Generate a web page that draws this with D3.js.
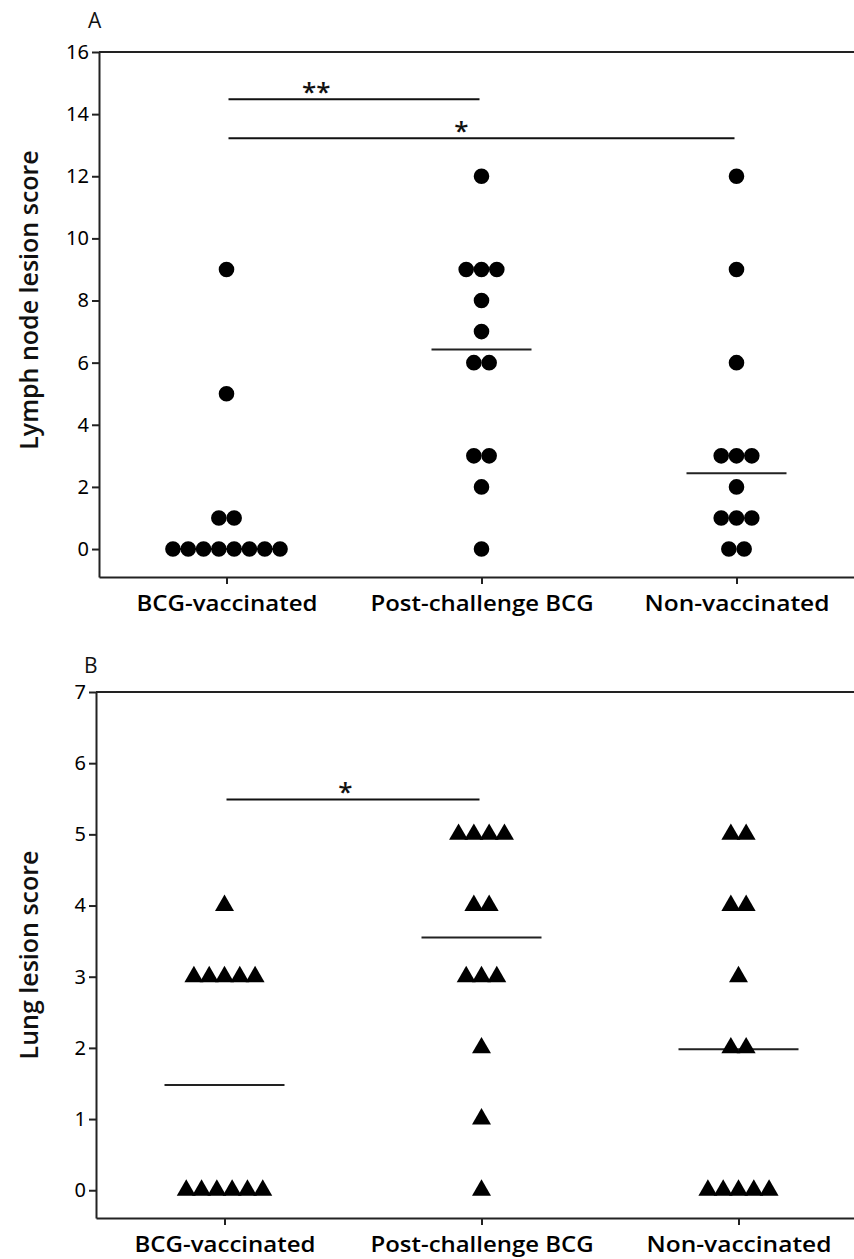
<!DOCTYPE html>
<html>
<head>
<meta charset="utf-8">
<script src="https://cdn.jsdelivr.net/npm/d3@7"></script>
<style>
  body { margin: 0; background: #fff; }
  svg { display: block; }
  text { font-family: "Open Sans", "Noto Sans", sans-serif; fill: #111; }
</style>
</head>
<body>
<svg id="chart" width="854" height="1259"></svg>
<script>
var groups = ['BCG-vaccinated', 'Post-challenge BCG', 'Non-vaccinated'];

// panel A: lymph node lesion score, one array per group
var lymphBCG = [0, 0, 0, 0, 0, 0, 0, 0, 1, 1, 5, 9];
var lymphPost = [0, 2, 3, 3, 6, 6, 7, 8, 9, 9, 9, 12];
var lymphNon = [0, 0, 1, 1, 1, 2, 3, 3, 3, 6, 9, 12];
var lymphMedians = [0, 6.42, 2.44];
var lymphTicks = [0, 2, 4, 6, 8, 10, 12, 14, 16];
// [from group, to group, height, label]
var lymphSig = [
    [0, 1, 14.48, '**'],
    [0, 2, 13.22, '*']
];

// panel B: lung lesion score
var lungBCG = [0, 0, 0, 0, 0, 0, 3, 3, 3, 3, 3, 4];
var lungPost = [0, 1, 2, 3, 3, 3, 4, 4, 5, 5, 5, 5];
var lungNon = [0, 0, 0, 0, 0, 2, 2, 3, 4, 4, 5, 5];
var lungMedians = [1.48, 3.55, 1.98];
var lungTicks = [0, 1, 2, 3, 4, 5, 6, 7];
var lungSig = [
    [0, 1, 5.49, '*']
];

var svg = d3.select('#chart');
var W = 854;

// spread equal values side by side, like a column scatter
function swarm(values, gi, spacing) {
    var counts = d3.rollup(values, function (v) { return v.length; }, function (d) { return d; });
    var seen = new Map();
    return values.map(function (v) {
        var n = counts.get(v);
        var j = seen.get(v) || 0;
        seen.set(v, j + 1);
        return { g: gi, v: v, off: (j - (n - 1) / 2) * spacing };
    });
}

function panel(opts) {
    var x = d3.scalePoint()
        .domain(groups)
        .range([opts.left, opts.left + 3 * opts.step])
        .padding(0.5);

    var y = d3.scaleLinear()
        .domain([opts.yMin, opts.yMax])
        .range([opts.bottom, opts.top]);

    var g = svg.append('g');

    // top frame line
    g.append('line')
        .attr('x1', opts.left).attr('x2', W + 20)
        .attr('y1', y(opts.yMax)).attr('y2', y(opts.yMax))
        .attr('stroke', '#222').attr('stroke-width', 2);

    var yAxis = g.append('g')
        .attr('transform', 'translate(' + opts.left + ',0)')
        .call(d3.axisLeft(y).tickValues(opts.ticks).tickSize(7).tickSizeOuter(0).tickPadding(3));
    yAxis.selectAll('text')
        .style('font-size', '20px')
        .style('fill', '#000')
        .style('font-family', '"Noto Sans", sans-serif');

    var xAxis = g.append('g')
        .attr('transform', 'translate(0,' + opts.bottom + ')')
        .call(d3.axisBottom(x).tickSize(7).tickSizeOuter(0).tickPadding(11));
    xAxis.selectAll('text')
        .style('font-size', '22px')
        .style('font-weight', 600)
        .style('fill', '#000')
        .attr('textLength', function (d, i) { return opts.labelLen[i]; })
        .attr('lengthAdjust', 'spacingAndGlyphs');

    [yAxis, xAxis].forEach(function (a) {
        a.selectAll('path, line').attr('stroke', '#222').attr('stroke-width', 2);
    });

    // axis title
    g.append('text')
        .attr('transform', 'translate(' + opts.titleX + ',' + opts.titleY + ') rotate(-90)')
        .attr('text-anchor', 'middle')
        .style('font-size', '25px')
        .style('font-weight', 600)
        .text(opts.title);

    // panel letter
    g.append('text')
        .attr('x', opts.letterX).attr('y', opts.letterY)
        .style('font-size', '21px')
        .text(opts.letter);

    // significance bars
    opts.sig.forEach(function (s, i) {
        var x1 = x(groups[s[0]]) + 2, x2 = x(groups[s[1]]) - 2;
        g.append('line')
            .attr('x1', x1).attr('x2', x2)
            .attr('y1', y(s[2])).attr('y2', y(s[2]))
            .attr('stroke', '#111').attr('stroke-width', 2);
        g.append('text')
            .attr('x', x1 + (x2 - x1) * opts.starPos[i])
            .attr('y', y(s[2]) + 2)
            .attr('text-anchor', 'middle')
            .style('font-size', '26px')
            .style('font-weight', 600)
            .text(s[3]);
    });

    // median lines
    g.selectAll('.median')
        .data(opts.medians)
        .enter()
        .append('line')
        .attr('x1', function (d, i) { return x(groups[i]) - opts.medHalf; })
        .attr('x2', function (d, i) { return x(groups[i]) + opts.medHalf; })
        .attr('y1', function (d) { return y(d); })
        .attr('y2', function (d) { return y(d); })
        .attr('stroke', '#222').attr('stroke-width', 2);

    var pts = [];
    opts.series.forEach(function (s, i) { pts = pts.concat(swarm(s, i, 15.3)); });

    var sym = d3.symbol().type(opts.symbol).size(opts.symbolSize);
    g.selectAll('.pt')
        .data(pts)
        .enter()
        .append('path')
        .attr('d', sym)
        .attr('transform', function (d) {
            return 'translate(' + (x(groups[d.g]) + d.off) + ',' + y(d.v) + ')';
        })
        .attr('fill', '#000');
}

panel({
    left: 99, step: 255, top: 52, bottom: 577,
    yMin: -0.9, yMax: 16, ticks: lymphTicks,
    series: [lymphBCG, lymphPost, lymphNon],
    medians: lymphMedians, medHalf: 50,
    sig: lymphSig, starPos: [0.35, 0.46],
    symbol: d3.symbolCircle, symbolSize: Math.PI * 7.8 * 7.8,
    title: 'Lymph node lesion score', titleX: 38, titleY: 300,
    letter: 'A', letterX: 88, letterY: 28,
    labelLen: [181, 223, 185]
});

panel({
    left: 96, step: 257, top: 692, bottom: 1218,
    yMin: -0.39, yMax: 7, ticks: lungTicks,
    series: [lungBCG, lungPost, lungNon],
    medians: lungMedians, medHalf: 60,
    sig: lungSig, starPos: [0.47],
    symbol: d3.symbolTriangle, symbolSize: 156,
    title: 'Lung lesion score', titleX: 38, titleY: 955,
    letter: 'B', letterX: 84, letterY: 673,
    labelLen: [181, 223, 185]
});
</script>
</body>
</html>
